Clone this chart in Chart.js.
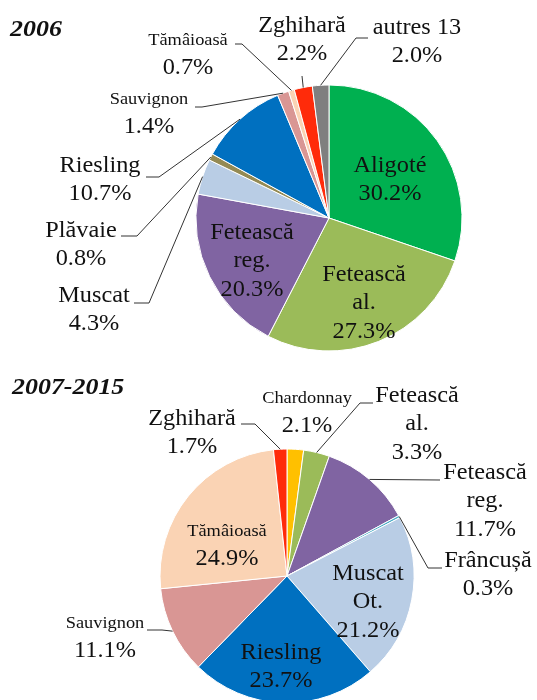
<!DOCTYPE html>
<html>
<head>
<meta charset="utf-8">
<script src="https://cdn.jsdelivr.net/npm/chart.js@4.4.1/dist/chart.umd.min.js"></script>
<style>
  body { margin: 0; background: #fff; width: 537px; height: 700px; position: relative; overflow: hidden; }
  canvas { position: absolute; left: 0; }
</style>
</head>
<body>
<canvas id="pie2006" width="537" height="360" style="top:0"></canvas>
<canvas id="pie2015" width="537" height="380" style="top:340px"></canvas>
<script>
// données 2006
var cepages2006 = ['Aligoté', 'Fetească al.', 'Fetească reg.', 'Muscat', 'Plăvaie', 'Riesling', 'Sauvignon', 'Tămâioasă', 'Zghihară', 'autres 13'];
var parts2006 = [30.2, 27.3, 20.3, 4.3, 0.8, 10.7, 1.4, 0.7, 2.2, 2.0];
var couleurs2006 = ['#00B050', '#9BBB59', '#8064A2', '#B9CDE5', '#948A54', '#0070C0', '#D99694', '#FAD3B4', '#FF2B0A', '#7F7F7F'];

// données 2007-2015
var cepages2015 = ['Chardonnay', 'Fetească al.', 'Fetească reg.', 'Frâncușă', 'Muscat Ot.', 'Riesling', 'Sauvignon', 'Tămâioasă', 'Zghihară'];
var parts2015 = [2.1, 3.3, 11.7, 0.3, 21.2, 23.7, 11.1, 24.9, 1.7];
var couleurs2015 = ['#FFC000', '#9BBB59', '#8064A2', '#4BACC6', '#B9CDE5', '#0070C0', '#D99694', '#FAD3B4', '#FF2B0A'];

var SERIF = "'Liberation Serif'";

function drawText(ctx, txt, x, y, font, align) {
  ctx.save();
  ctx.translate(x, y);
  ctx.scale(1.08, 1);
  ctx.font = font;
  ctx.textAlign = align || 'center';
  ctx.textBaseline = 'middle';
  ctx.fillStyle = '#111';
  ctx.fillText(txt, 0, 0);
  ctx.restore();
}

// étiquettes + lignes de rappel (coordonnées de la page)
var pieLabels = {
  id: 'pieLabels',
  afterDatasetsDraw: function (chart, args, opts) {
    var ctx = chart.ctx;
    var meta = chart.getDatasetMeta(0);
    var names = chart.data.labels;
    var vals = chart.data.datasets[0].data;
    var top = chart.canvas.offsetTop;
    ctx.save();
    ctx.translate(0, -top);
    drawText(ctx, opts.title, opts.titleX, opts.titleY, 'italic bold 24px ' + SERIF, 'left');
    opts.place.forEach(function (p, i) {
      var lines = p.split ? names[i].split(' ') : [names[i]];
      var y = p.y;
      lines.forEach(function (t) {
        drawText(ctx, t, p.x, y, (p.small ? '17px ' : '22.5px ') + SERIF);
        y += 28.5;
      });
      drawText(ctx, vals[i].toFixed(1) + '%', p.x, y - (p.small ? 1 : 0), '22.5px ' + SERIF);
      if (p.leader) {
        var a = meta.data[i].getProps(['x', 'y', 'startAngle', 'endAngle', 'outerRadius'], true);
        var mid = (a.startAngle + a.endAngle) / 2;
        ctx.strokeStyle = '#333';
        ctx.lineWidth = 1;
        ctx.beginPath();
        ctx.moveTo(p.leader[0][0], p.leader[0][1]);
        for (var k = 1; k < p.leader.length; k++) ctx.lineTo(p.leader[k][0], p.leader[k][1]);
        ctx.lineTo(a.x + Math.cos(mid) * a.outerRadius, a.y + top + Math.sin(mid) * a.outerRadius);
        ctx.stroke();
      }
    });
    ctx.restore();
  }
};

function makePie(id, labels, data, colors, radius, padding, labelOpts) {
  return new Chart(document.getElementById(id).getContext('2d'), {
    type: 'pie',
    data: {
      labels: labels,
      datasets: [{
        data: data,
        backgroundColor: colors,
        borderColor: '#ffffff',
        borderWidth: 1
      }]
    },
    options: {
      responsive: false,
      animation: false,
      events: [],
      radius: radius,
      layout: { padding: padding },
      plugins: {
        legend: { display: false },
        tooltip: { enabled: false },
        pieLabels: labelOpts
      }
    },
    plugins: [pieLabels]
  });
}

// centre (329, 218), rayon 133
makePie('pie2006', cepages2006, parts2006, couleurs2006, 133,
  { left: 196, right: 75, top: 85, bottom: 9 },
  {
    title: '2006', titleX: 10, titleY: 30,
    place: [
      { x: 390, y: 166 },
      { x: 364, y: 275, split: true },
      { x: 252, y: 233, split: true },
      { x: 94, y: 296, leader: [[134, 303], [149, 303]] },
      { x: 81, y: 231, leader: [[121, 236], [137, 236]] },
      { x: 100, y: 166, leader: [[146, 177], [159, 177]] },
      { x: 149, y: 100, small: true, leader: [[195, 107], [202, 107]] },
      { x: 188, y: 41, small: true, leader: [[235, 44], [242, 44]] },
      { x: 302, y: 26, leader: [[302, 76]] },
      { x: 417, y: 28, leader: [[368, 38], [356, 38]] }
    ]
  });

// centre (287, 576), rayon 127
makePie('pie2015', cepages2015, parts2015, couleurs2015, 127,
  { left: 160, right: 123, top: 109, bottom: 17 },
  {
    title: '2007-2015', titleX: 12, titleY: 388,
    place: [
      { x: 307, y: 399, small: true },
      { x: 417, y: 396, split: true, leader: [[373, 403], [360, 403]] },
      { x: 485, y: 473, split: true, leader: [[440, 480]] },
      { x: 488, y: 561, leader: [[442, 568], [428, 568]] },
      { x: 368, y: 574, split: true },
      { x: 281, y: 653 },
      { x: 105, y: 624, small: true, leader: [[147, 630], [162, 630]] },
      { x: 227, y: 532, small: true },
      { x: 192, y: 419, leader: [[241, 424], [255, 424]] }
    ]
  });
</script>
</body>
</html>
